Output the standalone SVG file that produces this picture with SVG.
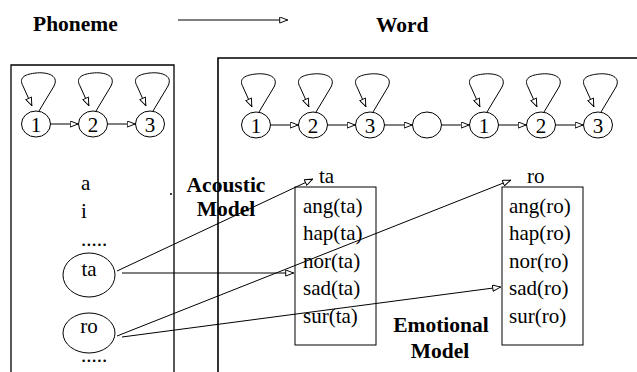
<svg xmlns="http://www.w3.org/2000/svg" width="637" height="372" viewBox="0 0 637 372">
  <style>
    .t { font-family: "Liberation Serif", "Times New Roman", serif; font-size: 21px; fill: #000; }
    .b { font-weight: bold; font-size: 21.5px; }
    .ln { fill: none; stroke: #000; stroke-width: 1; }
    .frame { fill: none; stroke: #000; stroke-width: 1.3; }
    .st { fill: #fff; stroke: #000; stroke-width: 1; }
    .arr { fill: none; stroke: #000; stroke-width: 1; marker-end: url(#tri); }
  </style>
  <defs>
    <marker id="tri" viewBox="0 0 10 8" refX="10" refY="4" markerWidth="9" markerHeight="7" markerUnits="userSpaceOnUse" orient="auto">
      <path d="M0.5,0.5 L9.5,4 L0.5,7.5 Z" fill="#fff" stroke="#000" stroke-width="1.1"/>
    </marker>
    <!-- self-loop drawn relative to a state centre at (0,0) -->
    <path id="loop" d="M3,-13 L18,-38 C24,-50 8,-52 0,-51 C-10,-50 -18,-47 -13,-38 L-4,-18"/>
  </defs>

  <!-- titles -->
  <g id="title-phoneme"><text class="t b" x="33" y="31">Phoneme</text></g>
  <g id="title-word"><text class="t b" x="376" y="32">Word</text></g>

  <!-- phoneme frame (left) and word frame (right), both open at the bottom -->
  <g id="phoneme-frame">
    <path class="frame" d="M11,372 V65 H174 V372"/>
  </g>
  <g id="word-frame">
    <path class="frame" d="M218,372 V58 H637" style="stroke-width:1.6"/>
  </g>

  <!-- phoneme HMM states -->
  <g id="p1"><ellipse class="st" cx="36" cy="124" rx="14.5" ry="13"/><text class="t" x="36" y="131.5" text-anchor="middle">1</text></g>
  <g id="p2"><ellipse class="st" cx="93" cy="124" rx="14.5" ry="13"/><text class="t" x="93" y="131.5" text-anchor="middle">2</text></g>
  <g id="p3"><ellipse class="st" cx="150" cy="124" rx="14.5" ry="13"/><text class="t" x="150" y="131.5" text-anchor="middle">3</text></g>

  <!-- word HMM states -->
  <g id="w1"><ellipse class="st" cx="256" cy="125" rx="14.5" ry="13"/><text class="t" x="256" y="132.5" text-anchor="middle">1</text></g>
  <g id="w2"><ellipse class="st" cx="313" cy="125" rx="14.5" ry="13"/><text class="t" x="313" y="132.5" text-anchor="middle">2</text></g>
  <g id="w3"><ellipse class="st" cx="370" cy="125" rx="14.5" ry="13"/><text class="t" x="370" y="132.5" text-anchor="middle">3</text></g>
  <g id="w-gap"><ellipse class="st" cx="427" cy="125" rx="14.5" ry="13"/></g>
  <g id="w4"><ellipse class="st" cx="484" cy="125" rx="14.5" ry="13"/><text class="t" x="484" y="132.5" text-anchor="middle">1</text></g>
  <g id="w5"><ellipse class="st" cx="541" cy="125" rx="14.5" ry="13"/><text class="t" x="541" y="132.5" text-anchor="middle">2</text></g>
  <g id="w6"><ellipse class="st" cx="598" cy="125" rx="14.5" ry="13"/><text class="t" x="598" y="132.5" text-anchor="middle">3</text></g>

  <!-- phoneme inventory -->
  <g id="phoneme-list">
    <text class="t" x="81" y="190">a</text>
    <text class="t" x="81" y="218">i</text>
    <text class="t" x="81" y="246">.....</text>
    <text class="t" x="81" y="362">.....</text>
  </g>
  <g id="ph-ta"><ellipse class="st" cx="89" cy="275" rx="26" ry="22"/><text class="t" x="89" y="276" text-anchor="middle">ta</text></g>
  <g id="ph-ro"><ellipse class="st" cx="89" cy="333" rx="26" ry="20"/><text class="t" x="89" y="333" text-anchor="middle">ro</text></g>

  <!-- stray mark near the acoustic label -->
  <circle cx="171" cy="194" r="1" fill="#000"/>

  <!-- connectors -->
  <g id="connectors">
    <line class="arr" x1="178" y1="20" x2="288" y2="20"/>

    <line class="arr" x1="50.5" y1="124" x2="78.5" y2="124"/>
    <line class="arr" x1="107.5" y1="124" x2="135.5" y2="124"/>

    <line class="arr" x1="270.5" y1="125" x2="298.5" y2="125"/>
    <line class="arr" x1="327.5" y1="125" x2="355.5" y2="125"/>
    <line class="arr" x1="384.5" y1="125" x2="412.5" y2="125"/>
    <line class="arr" x1="441.5" y1="125" x2="469.5" y2="125"/>
    <line class="arr" x1="498.5" y1="125" x2="526.5" y2="125"/>
    <line class="arr" x1="555.5" y1="125" x2="583.5" y2="125"/>

    <use href="#loop" class="arr" x="36" y="124"/>
    <use href="#loop" class="arr" x="93" y="124"/>
    <use href="#loop" class="arr" x="150" y="124"/>
    <use href="#loop" class="arr" x="256" y="125"/>
    <use href="#loop" class="arr" x="313" y="125"/>
    <use href="#loop" class="arr" x="370" y="125"/>
    <use href="#loop" class="arr" x="484" y="125"/>
    <use href="#loop" class="arr" x="541" y="125"/>
    <use href="#loop" class="arr" x="598" y="125"/>

    <line class="arr" x1="117" y1="271" x2="313" y2="179"/>
    <line class="arr" x1="122" y1="273" x2="294" y2="273"/>
    <line class="arr" x1="117" y1="336" x2="511" y2="180"/>
    <line class="arr" x1="122" y1="337" x2="501" y2="287"/>
  </g>

  <!-- model labels -->
  <g id="acoustic-label">
    <text class="t b" x="226" y="192" text-anchor="middle">Acoustic</text>
    <text class="t b" x="226" y="216" text-anchor="middle">Model</text>
  </g>
  <g id="emotional-label">
    <text class="t b" x="441" y="332" text-anchor="middle">Emotional</text>
    <text class="t b" x="440" y="358" text-anchor="middle">Model</text>
  </g>

  <!-- emotional state boxes -->
  <g id="em-ta">
    <text class="t" x="319" y="183">ta</text>
    <rect class="ln" x="295" y="187" width="81" height="158"/>
    <text class="t" x="303" y="213">ang(ta)</text>
    <text class="t" x="303" y="240">hap(ta)</text>
    <text class="t" x="303" y="267.5">nor(ta)</text>
    <text class="t" x="303" y="295">sad(ta)</text>
    <text class="t" x="303" y="322.5">sur(ta)</text>
  </g>
  <g id="em-ro">
    <text class="t" x="527" y="183">ro</text>
    <rect class="ln" x="502" y="187" width="81" height="158"/>
    <text class="t" x="509" y="213">ang(ro)</text>
    <text class="t" x="509" y="240">hap(ro)</text>
    <text class="t" x="509" y="267.5">nor(ro)</text>
    <text class="t" x="509" y="295">sad(ro)</text>
    <text class="t" x="509" y="322.5">sur(ro)</text>
  </g>
</svg>
